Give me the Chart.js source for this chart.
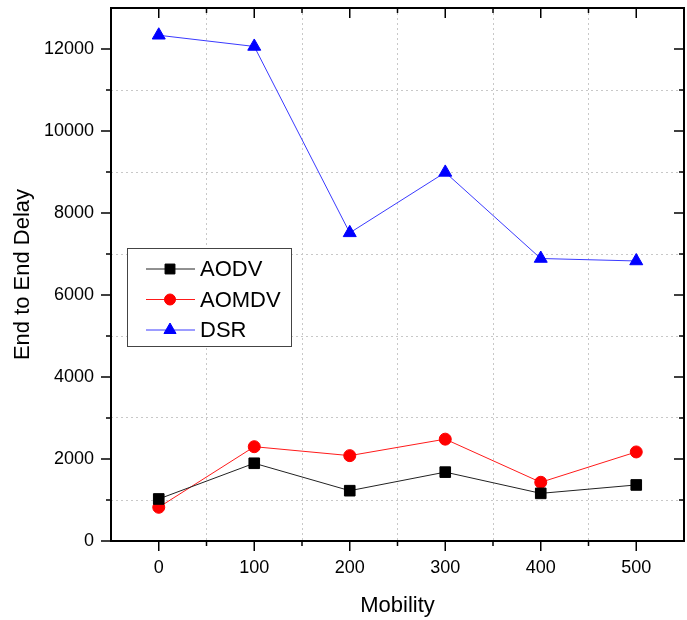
<!DOCTYPE html>
<html>
<head>
<meta charset="utf-8">
<script src="https://cdn.jsdelivr.net/npm/chart.js@4.4.1/dist/chart.umd.min.js"></script>
<style>
  body { margin: 0; background: #fff; }
  #wrap { width: 687px; height: 620px; }
</style>
</head>
<body>
<div id="wrap"><canvas id="myChart" width="687" height="620"></canvas></div>
<script>
// datos
var mobility = [0, 100, 200, 300, 400, 500];
var aodv = [1025, 1896, 1227, 1680, 1162, 1367];
var aomdv = [822, 2300, 2082, 2484, 1432, 2172];
var dsr = [12335, 12062, 7516, 8990, 6890, 6830];
var xTicks = [0, 100, 200, 300, 400, 500];
var yTicks = [0, 2000, 4000, 6000, 8000, 10000, 12000];

var textFont = '"Liberation Sans", Arial, sans-serif';

function toPoints(vals) {
  return mobility.map(function (m, i) { return { x: m, y: vals[i] }; });
}

// marco y marcas de los ejes
var framePlugin = {
  id: 'frame',
  afterDraw: function (chart) {
    var ctx = chart.ctx, a = chart.chartArea;
    var x = chart.scales.x, y = chart.scales.y;
    ctx.save();
    ctx.strokeStyle = '#000';
    ctx.lineWidth = 1.5;
    x.ticks.forEach(function (t) {
      if (t.value <= x.min || t.value >= x.max) return;
      var px = x.getPixelForValue(t.value);
      var len = xTicks.indexOf(t.value) >= 0 ? 10 : 5;
      ctx.beginPath();
      ctx.moveTo(px, a.bottom); ctx.lineTo(px, a.bottom + len);
      ctx.moveTo(px, a.top); ctx.lineTo(px, a.top + len);
      ctx.stroke();
    });
    y.ticks.forEach(function (t) {
      if (t.value <= y.min || t.value >= y.max) return;
      var py = y.getPixelForValue(t.value);
      var len = yTicks.indexOf(t.value) >= 0 ? 10 : 5;
      ctx.beginPath();
      ctx.moveTo(a.left, py); ctx.lineTo(a.left - len, py);
      ctx.moveTo(a.right, py); ctx.lineTo(a.right - len, py);
      ctx.stroke();
    });
    // marca del 0 en y
    ctx.beginPath();
    ctx.moveTo(a.left, a.bottom); ctx.lineTo(a.left - 10, a.bottom);
    ctx.stroke();
    ctx.lineWidth = 2;
    ctx.strokeRect(a.left, a.top, a.right - a.left, a.bottom - a.top);
    ctx.restore();
  }
};

// leyenda con recuadro
var legendPlugin = {
  id: 'boxLegend',
  afterDraw: function (chart) {
    var ctx = chart.ctx;
    ctx.save();
    ctx.fillStyle = '#fff';
    ctx.fillRect(127, 248, 165, 99);
    ctx.strokeStyle = '#444';
    ctx.lineWidth = 1;
    ctx.strokeRect(127.5, 248.5, 164, 98);
    chart.data.datasets.forEach(function (ds, i) {
      var cy = 269 + i * 30.5;
      ctx.strokeStyle = ds.borderColor;
      ctx.lineWidth = 1;
      ctx.beginPath();
      ctx.moveTo(146, cy); ctx.lineTo(195, cy);
      ctx.stroke();
      ctx.fillStyle = ds.pointBackgroundColor;
      ctx.strokeStyle = ds.pointBackgroundColor;
      Chart.helpers.drawPoint(ctx, {
        pointStyle: ds.pointStyle, radius: ds.pointRadius - 0.5, borderWidth: 1, rotation: 0
      }, 170, cy);
      ctx.fillStyle = '#000';
      ctx.font = '22px ' + textFont;
      ctx.textBaseline = 'middle';
      ctx.fillText(ds.label, 200, cy + 1);
    });
    ctx.restore();
  }
};

var ctx = document.getElementById('myChart').getContext('2d');
var chart = new Chart(ctx, {
  type: 'line',
  data: {
    datasets: [{
      label: 'AODV',
      data: toPoints(aodv),
      borderColor: '#222222',
      backgroundColor: '#000000',
      pointBackgroundColor: '#000000',
      pointBorderColor: '#000000',
      pointStyle: 'rect',
      pointRadius: 7.5,
      borderWidth: 1
    }, {
      label: 'AOMDV',
      data: toPoints(aomdv),
      borderColor: '#ff1a1a',
      backgroundColor: '#ff0000',
      pointBackgroundColor: '#ff0000',
      pointBorderColor: '#ff0000',
      pointStyle: 'circle',
      pointRadius: 6,
      borderWidth: 1
    }, {
      label: 'DSR',
      data: toPoints(dsr),
      borderColor: '#3a3aff',
      backgroundColor: '#0000ff',
      pointBackgroundColor: '#0000ff',
      pointBorderColor: '#0000ff',
      pointStyle: 'triangle',
      pointRadius: 7.5,
      borderWidth: 1
    }]
  },
  options: {
    responsive: false,
    animation: false,
    layout: { autoPadding: false, padding: { top: 8, right: 3, left: 0, bottom: 0 } },
    plugins: { legend: { display: false }, tooltip: { enabled: false } },
    elements: { line: { tension: 0 } },
    scales: {
      x: {
        type: 'linear',
        min: -50,
        max: 550,
        afterFit: function (s) { s.height = 79; s.paddingLeft = 0; s.paddingRight = 0; },
        border: { display: false, dash: [2, 3] },
        grid: {
          drawTicks: false,
          color: function (c) {
            var v = c.tick.value;
            return (xTicks.indexOf(v) < 0 && v > -50 && v < 550) ? '#c8c8c8' : 'rgba(0,0,0,0)';
          },
          lineWidth: 1
        },
        ticks: {
          stepSize: 50,
          padding: 16,
          color: '#000',
          font: { size: 18, family: textFont },
          maxRotation: 0,
          autoSkip: false,
          callback: function (v) { return xTicks.indexOf(v) >= 0 ? String(v) : ''; }
        },
        title: {
          display: true,
          text: 'Mobility',
          color: '#000',
          font: { size: 22, family: textFont },
          padding: { top: 0, bottom: 1 }
        }
      },
      y: {
        min: 0,
        max: 13000,
        afterFit: function (s) { s.width = 111; s.paddingTop = 0; s.paddingBottom = 0; },
        border: { display: false, dash: [2, 3] },
        grid: {
          drawTicks: false,
          color: function (c) {
            var v = c.tick.value;
            return (yTicks.indexOf(v) < 0 && v > 0 && v < 13000) ? '#c8c8c8' : 'rgba(0,0,0,0)';
          },
          lineWidth: 1
        },
        ticks: {
          stepSize: 1000,
          padding: 17,
          color: '#000',
          font: { size: 18, family: textFont },
          autoSkip: false,
          callback: function (v) { return yTicks.indexOf(v) >= 0 ? String(v) : ''; }
        },
        title: {
          display: true,
          text: 'End to End Delay',
          color: '#000',
          font: { size: 22, family: textFont },
          padding: { top: 10, bottom: 0 }
        }
      }
    }
  },
  plugins: [framePlugin, legendPlugin]
});
</script>
</body>
</html>
